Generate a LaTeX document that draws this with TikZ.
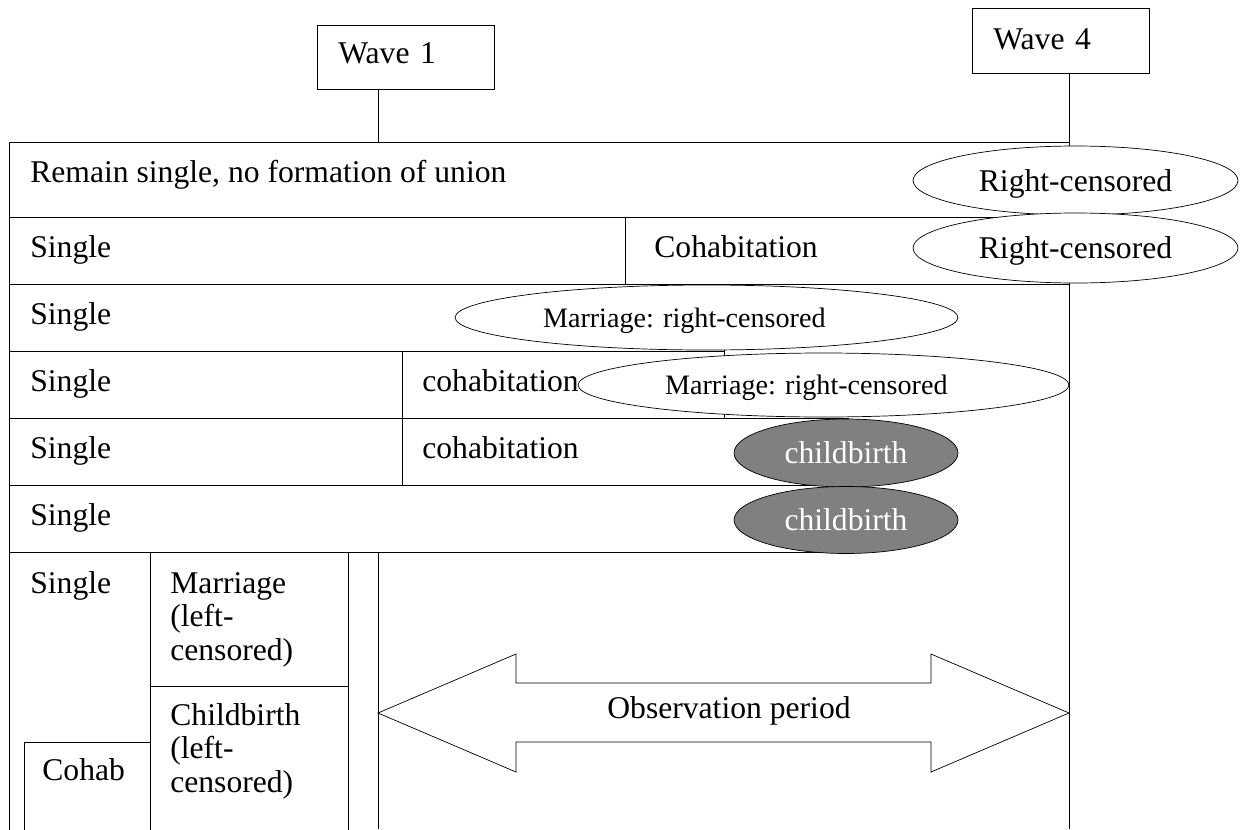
\documentclass[tikz,border=0pt]{standalone}
\usepackage{fontspec}
\setmainfont{Liberation Serif}
\usetikzlibrary{shapes.geometric}
\frenchspacing
\tikzset{
x=0.02cm, y=-0.02cm, % one unit is one pixel of the sketch, y runs down
line width=0.8pt,
cell/.style={draw, fill=white}, % a stretch of a life course
lbl/.style={anchor=base west, inner sep=0pt}, % text written into a cell
wavebox/.style={draw, fill=white, anchor=base west, inner xsep=0.42cm, inner ysep=0pt, text width=2.7cm, align=left},
event/.style={ellipse, draw, fill=white, inner sep=0pt, text depth=0pt}, % an event at the end of a stretch
birth/.style={event, fill=gray, text=white, minimum width=4.48cm},
small/.style={font=\fontsize{16}{18}\selectfont},
}
\begin{document}
\begin{tikzpicture}[font=\fontsize{18}{19.3}\selectfont]
\useasboundingbox (0,0) rectangle (1248,829);
\clip (0,0) rectangle (1248,829);

% the two waves
\node[wavebox, text height=0.76cm, text depth=0.52cm] (w1) at (317,63) {Wave 1};
\node[wavebox, text height=0.82cm, text depth=0.48cm] (w4) at (972,49) {Wave 4};
\coordinate (end1) at (378,829);
\coordinate (end4) at (1069,829);
\draw (end1 |- w1.south) -- (end1);
\draw (end4 |- w4.south) -- (end4);

% the life courses
\draw[cell] (9,142) rectangle (1069,217);
\draw[cell] (9,217) rectangle (625,284);
\draw[cell] (625,217) rectangle (1069,284);
\draw[cell] (9,284) rectangle (724,351);
\draw[cell] (9,351) rectangle (402,418);
\draw[cell] (402,351) rectangle (724,418);
\draw[cell] (9,418) rectangle (402,485);
\draw[cell] (402,418) rectangle (848,485);
\draw[cell] (9,485) rectangle (848,552);

\node[lbl] (remain) at (30,182) {Remain single, no formation of union};
\node[lbl] (single2) at (30,257) {Single};
\node[lbl] (cohab2) at (654,257) {Cohabitation};
\node[lbl] (single3) at (30,324) {Single};
\node[lbl] (single4) at (30,391) {Single};
\node[lbl] (cohab4) at (422,391) {cohabitation};
\node[lbl] (single5) at (30,458) {Single};
\node[lbl] (cohab5) at (422,458) {cohabitation};
\node[lbl] (single6) at (30,525) {Single};

% events
\node[event, minimum width=6.5cm, minimum height=1.38cm] (rc1) at (1075.5,180.5) {Right-censored};
\node[event, minimum width=6.5cm, minimum height=1.4cm] (rc2) at (1075.5,248) {Right-censored};
\node[event, small, minimum width=10.06cm, minimum height=1.3cm, text width=6.54cm, align=left] (mar3) at (706.5,317.5) {Marriage: right-censored};
\node[event, small, minimum width=9.82cm, minimum height=1.28cm, text width=6.34cm, align=left] (mar4) at (823.5,385) {Marriage: right-censored};
\node[birth, minimum height=1.36cm] (birth5) at (846,453) {childbirth};
\node[birth, minimum height=1.34cm] (birth6) at (846,520) {childbirth};

% left-censored stretches
\draw[cell] (9,552) rectangle (150,840);
\draw[cell] (150,552) rectangle (348,686);
\draw[cell] (150,686) rectangle (348,840);
\draw[cell] (24,742) rectangle (150,840);

\node[lbl] (single7) at (30,593) {Single};
\node[lbl, text width=3.6cm, align=left] (marleft) at (170,593) {Marriage\\(left-\\censored)};
\node[lbl, text width=3.6cm, align=left] (birthleft) at (170,725) {Childbirth\\(left-\\censored)};
\node[lbl] (cohab7) at (42,780) {Cohab};

% observation period
\draw (378,713) -- (516,654) -- (516,683) -- (931,683) -- (931,654) -- (1069,713)
  -- (931,772) -- (931,742) -- (516,742) -- (516,772) -- cycle;
\node[lbl, anchor=base] (obs) at (729,718) {Observation period};
\end{tikzpicture}
\end{document}
